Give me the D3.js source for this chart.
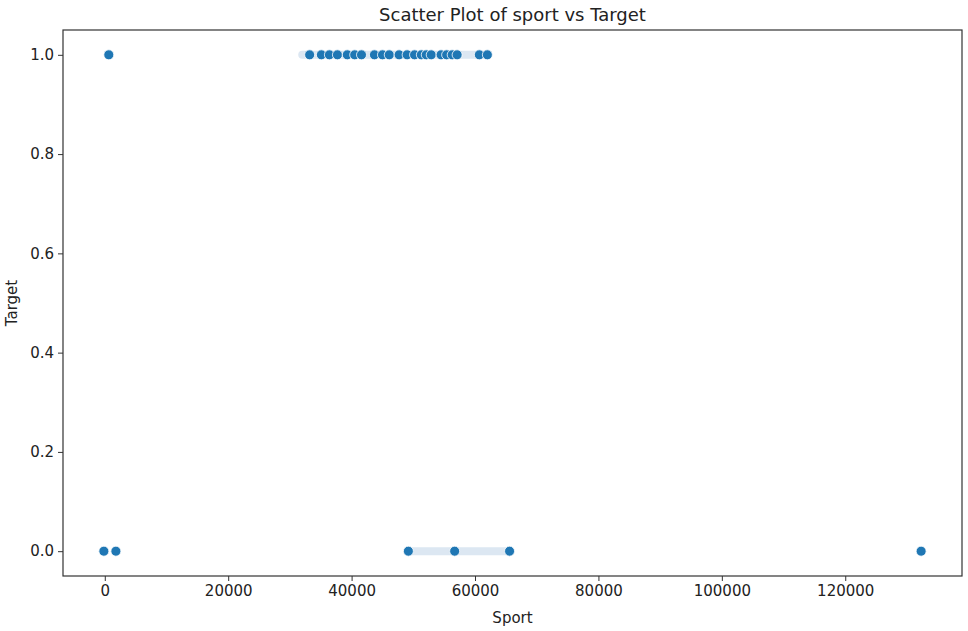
<!DOCTYPE html>
<html>
<head>
<meta charset="utf-8">
<script src="https://cdn.jsdelivr.net/npm/d3@7"></script>
<style>
	body { margin: 0; background: #fff; }
	text { font-family: "DejaVu Sans", sans-serif; fill: #222; }
</style>
</head>
<body>
<div id="scatter"></div>
<script>
	// sport values, grouped by target
	const sportTarget1 = [650, 33200, 35100, 36400, 37700, 39300, 40500, 41600, 43700, 45000,
		46100, 47700, 49000, 50200, 51300, 52100, 52900, 54500, 55400, 56300, 57100, 60700, 62000];
	const sportTarget0 = [-150, 1800, 49200, 56700, 65600, 132300];

	// faint bands behind the dense runs of points
	const bandTarget = [1, 0];
	const bandFrom = [32000, 49200];
	const bandTo = [62000, 65600];

	const xTicks = [0, 20000, 40000, 60000, 80000, 100000, 120000];
	const yTicks = [0.0, 0.2, 0.4, 0.6, 0.8, 1.0];

	const points = sportTarget1.map(v => ({ sport: v, target: 1 }))
		.concat(sportTarget0.map(v => ({ sport: v, target: 0 })));
	const bands = bandTarget.map((t, i) => ({ target: t, x0: bandFrom[i], x1: bandTo[i] }));

	let margin = { top: 30, right: 6, bottom: 55, left: 63 },
		width = 968 - margin.left - margin.right,
		height = 631 - margin.top - margin.bottom;

	let svg = d3.select('#scatter')
		.append('svg')
		.attr('width', 968)
		.attr('height', 631);

	let g = svg.append('g')
		.attr('transform', `translate(${margin.left}, ${margin.top})`);

	//matplotlib-style 5% padding around the data
	let xMin = d3.min(points, d => d.sport), xMax = d3.max(points, d => d.sport);
	let pad = (xMax - xMin) * 0.05;
	let xScale = d3.scaleLinear()
		.domain([xMin - pad, xMax + pad])
		.range([0, width]);

	let yScale = d3.scaleLinear()
		.domain([-0.05, 1.05])
		.range([height, 0]);

	let xAxis = d3.axisBottom(xScale)
		.tickValues(xTicks)
		.tickFormat(d3.format('d'))
		.tickSize(5)
		.tickPadding(4);

	let yAxis = d3.axisLeft(yScale)
		.tickValues(yTicks)
		.tickFormat(d3.format('.1f'))
		.tickSize(5)
		.tickPadding(4);

	g.append('g')
		.attr('transform', `translate(0, ${height})`)
		.call(xAxis)
		.call(a => a.select('.domain').remove())
		.selectAll('text')
		.style('font-size', '15px')
		.style('font-family', '"DejaVu Sans", sans-serif')
		.attr('fill', '#222');

	g.append('g')
		.call(yAxis)
		.call(a => a.select('.domain').remove())
		.selectAll('text')
		.style('font-size', '15px')
		.style('font-family', '"DejaVu Sans", sans-serif')
		.attr('fill', '#222');

	g.selectAll('.tick line').attr('stroke', '#333');

	//Bands
	g.selectAll('line.band')
		.data(bands)
		.enter()
		.append('line')
		.attr('class', 'band')
		.attr('x1', d => xScale(d.x0))
		.attr('x2', d => xScale(d.x1))
		.attr('y1', d => yScale(d.target))
		.attr('y2', d => yScale(d.target))
		.attr('stroke', '#dce7f2')
		.attr('stroke-width', 8)
		.attr('stroke-linecap', 'round');

	//Points
	g.selectAll('circle.dot')
		.data(points)
		.enter()
		.append('circle')
		.attr('class', 'dot')
		.attr('cx', d => xScale(d.sport))
		.attr('cy', d => yScale(d.target))
		.attr('r', 5)
		.attr('fill', '#1f77b4')
		.attr('stroke', '#fff')
		.attr('stroke-width', 0.8);

	//Frame
	g.append('rect')
		.attr('width', width)
		.attr('height', height)
		.attr('fill', 'none')
		.attr('stroke', '#333')
		.attr('stroke-width', 1.2);

	svg.append('text')
		.attr('x', margin.left + width / 2)
		.attr('y', 21)
		.attr('text-anchor', 'middle')
		.style('font-size', '18px')
		.text('Scatter Plot of sport vs Target');

	svg.append('text')
		.attr('x', margin.left + width / 2)
		.attr('y', 623)
		.attr('text-anchor', 'middle')
		.style('font-size', '15px')
		.text('Sport');

	svg.append('text')
		.attr('transform', 'rotate(-90)')
		.attr('x', -(margin.top + height / 2))
		.attr('y', 17)
		.attr('text-anchor', 'middle')
		.style('font-size', '15px')
		.text('Target');
</script>
</body>
</html>
